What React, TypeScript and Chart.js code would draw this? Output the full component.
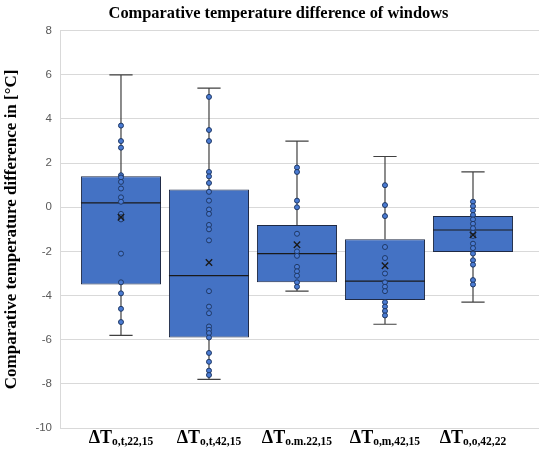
import React, { useEffect, useRef } from "react";
import { Chart, registerables } from "chart.js";

Chart.register(...registerables);

const TITLE = "Comparative temperature difference of windows";
const Y_TITLE = "Comparative temperature difference in [°C]";
const LABEL_MAIN = "ΔT";
const LABEL_SUBS = ["o,t,22,15", "o,t,42,15", "o.m.22,15", "o,m,42,15", "o,o,42,22"];

const mins = [-5.8, -7.8, -3.8, -5.3, -4.3];
const q1s = [-3.5, -5.9, -3.4, -4.2, -2.03];
const medians = [0.2, -3.1, -2.1, -3.35, -1.03];
const q3s = [1.4, 0.8, -0.8, -1.45, -0.4];
const maxs = [6.0, 5.4, 3.0, 2.3, 1.6];
const means = [-0.45, -2.5, -1.7, -2.65, -1.25];

const points1 = [3.7, 3.0, 2.7, 1.45, 1.35, 1.15, 0.85, 0.45, 0.25, -0.3, -0.45, -0.55, -2.1, -3.4, -3.9, -4.6, -5.2];
const points2 = [5.0, 3.5, 3.0, 1.6, 1.4, 1.1, 0.7, 0.3, -0.1, -0.3, -0.8, -1.0, -1.5, -3.8, -4.5, -4.8, -5.4, -5.55, -5.7, -5.9, -6.6, -7.0, -7.4, -7.6];
const points3 = [1.8, 1.6, 0.3, 0.0, -1.2, -2.0, -2.2, -2.7, -2.9, -3.1, -3.4, -3.6];
const points4 = [1.0, 0.1, -0.4, -1.8, -2.3, -3.0, -3.4, -3.6, -3.8, -4.3, -4.5, -4.7, -4.9];
const points5 = [0.25, 0.05, -0.15, -0.35, -0.55, -0.75, -0.95, -1.15, -1.3, -1.65, -1.85, -2.1, -2.4, -2.6, -3.3, -3.5];
const allPoints = [points1, points2, points3, points4, points5];

const Y_MIN = -10;
const Y_MAX = 8;
const Y_STEP = 2;

const SERIF = "'Liberation Serif', 'DejaVu Serif', serif";

const boxPlugin = {
  id: "boxExtras",
  beforeDatasetsDraw(chart: any) {
    const ctx = chart.ctx;
    const xs = chart.scales.x;
    const ys = chart.scales.y;
    const barMeta = chart.getDatasetMeta(0);
    ctx.save();
    ctx.strokeStyle = "#404040";
    ctx.lineWidth = 1.2;
    for (let i = 0; i < mins.length; i++) {
      const x = xs.getPixelForValue(i);
      const w = barMeta.data[i] ? barMeta.data[i].width : 80;
      const cap = w * 0.145;
      const yMax = ys.getPixelForValue(maxs[i]);
      const yQ3 = ys.getPixelForValue(q3s[i]);
      const yQ1 = ys.getPixelForValue(q1s[i]);
      const yMin = ys.getPixelForValue(mins[i]);
      ctx.beginPath();
      ctx.moveTo(x, yMax);
      ctx.lineTo(x, yQ3);
      ctx.moveTo(x, yQ1);
      ctx.lineTo(x, yMin);
      ctx.moveTo(x - cap, yMax);
      ctx.lineTo(x + cap, yMax);
      ctx.moveTo(x - cap, yMin);
      ctx.lineTo(x + cap, yMin);
      ctx.stroke();
    }
    ctx.restore();
  },
  afterDatasetDraw(chart: any, args: any) {
    if (args.index !== 0) return;
    const ctx = chart.ctx;
    const xs = chart.scales.x;
    const ys = chart.scales.y;
    const barMeta = chart.getDatasetMeta(0);
    ctx.save();
    ctx.strokeStyle = "#1a1a1a";
    ctx.lineWidth = 1.2;
    for (let i = 0; i < medians.length; i++) {
      const x = xs.getPixelForValue(i);
      const w = barMeta.data[i] ? barMeta.data[i].width : 80;
      const y = ys.getPixelForValue(medians[i]);
      ctx.beginPath();
      ctx.moveTo(x - w / 2, y);
      ctx.lineTo(x + w / 2, y);
      ctx.stroke();
    }
    ctx.restore();
  },
  afterDraw(chart: any) {
    const ctx = chart.ctx;
    const xs = chart.scales.x;
    const base = chart.chartArea.bottom + 15;
    ctx.save();
    ctx.fillStyle = "#000000";
    ctx.textBaseline = "alphabetic";
    ctx.textAlign = "left";
    const mainFont = `bold 18px ${SERIF}`;
    const subFont = `bold 11.5px ${SERIF}`;
    for (let i = 0; i < LABEL_SUBS.length; i++) {
      const x = xs.getPixelForValue(i);
      ctx.font = mainFont;
      const wm = ctx.measureText(LABEL_MAIN).width;
      ctx.font = subFont;
      const ws = ctx.measureText(LABEL_SUBS[i]).width;
      const start = x - (wm + ws) / 2;
      ctx.font = mainFont;
      ctx.fillText(LABEL_MAIN, start, base);
      ctx.font = subFont;
      ctx.fillText(LABEL_SUBS[i], start + wm, base + 2);
    }
    ctx.restore();
  },
};

export default function App() {
  const ref = useRef<HTMLCanvasElement | null>(null);
  useEffect(() => {
    if (!ref.current) return;
    const boxData = q1s.map((q, i) => ({ x: i, y: [q, q3s[i]] }));
    const pointData: { x: number; y: number }[] = [];
    allPoints.forEach((arr, i) => arr.forEach((v) => pointData.push({ x: i, y: v })));
    const meanData = means.map((m, i) => ({ x: i, y: m }));
    const chart = new Chart(ref.current, {
      type: "bar",
      data: {
        datasets: [
          {
            type: "bar",
            data: boxData as any,
            backgroundColor: "#4472C4",
            borderColor: "#1f2a44",
            borderWidth: 1,
            borderSkipped: false,
            categoryPercentage: 1,
            barPercentage: 0.91,
            order: 3,
          } as any,
          {
            type: "scatter",
            data: pointData,
            pointRadius: 2.5,
            pointBackgroundColor: "#4a7bd3",
            pointBorderColor: "#1f3864",
            pointBorderWidth: 1,
            order: 2,
          } as any,
          {
            type: "scatter",
            data: meanData,
            pointStyle: "crossRot",
            pointRadius: 4.5,
            pointBorderColor: "#1a1a1a",
            pointBorderWidth: 1.4,
            order: 1,
          } as any,
        ],
      },
      options: {
        responsive: false,
        animation: false,
        events: [],
        layout: { padding: { top: 0, right: 11, bottom: 0, left: 18 } },
        plugins: {
          legend: { display: false },
          tooltip: { enabled: false },
          title: {
            display: true,
            text: TITLE,
            color: "#000000",
            font: { family: SERIF, size: 16.4, weight: "bold" },
            padding: { top: 4, bottom: 7 },
          },
        },
        scales: {
          x: {
            type: "linear",
            offset: false,
            min: -0.693,
            max: 4.75,
            grid: { display: false, offset: false },
            border: { display: false },
            ticks: { display: false },
            afterBuildTicks: (s: any) => {
              s.ticks = LABEL_SUBS.map((_, i) => ({ value: i }));
            },
            afterFit: (s: any) => {
              s.height = 22;
            },
          },
          y: {
            type: "linear",
            min: Y_MIN,
            max: Y_MAX,
            ticks: {
              stepSize: Y_STEP,
              color: "#595959",
              font: { family: "'Liberation Sans', Arial, sans-serif", size: 11.5 },
              padding: 8,
            },
            grid: { color: "#D9D9D9", lineWidth: 1, drawTicks: false },
            border: { display: true, color: "#D9D9D9" },
            title: {
              display: true,
              text: Y_TITLE,
              color: "#000000",
              font: { family: SERIF, size: 17, weight: "bold" },
              padding: { top: -17, bottom: 0 },
            },
            afterFit: (s: any) => {
              s.width = 42;
            },
          },
        },
      } as any,
      plugins: [boxPlugin],
    });
    return () => chart.destroy();
  }, []);
  return (
    <div style={{ position: "fixed", left: 0, top: 0, width: 550, height: 450, background: "#ffffff" }}>
      <canvas ref={ref} width={550} height={450} style={{ width: 550, height: 450, display: "block" }} />
    </div>
  );
}
